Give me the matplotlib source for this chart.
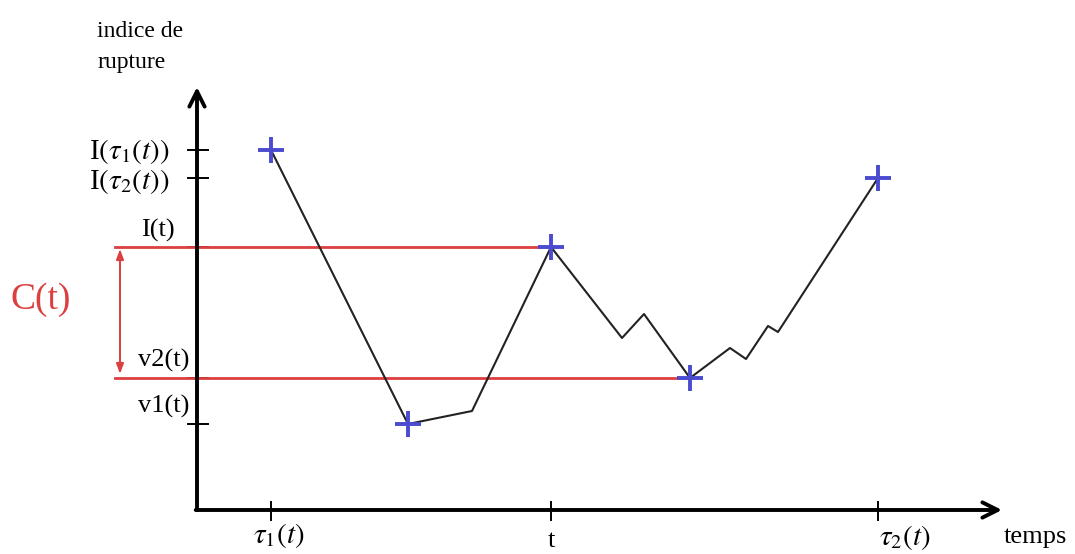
import matplotlib.pyplot as plt

plt.rcParams['font.family'] = ['Liberation Serif', 'DejaVu Serif']
plt.rcParams['mathtext.fontset'] = 'stix'

# time / index values of the breaking index curve
time = [74, 211, 275, 354, 425, 447, 493, 533, 549, 571, 581, 681]
index = [360, 86, 99, 263, 172, 196, 132, 162, 151, 184, 178, 332]

# marked points (tau1, min, t, v2, tau2)
mark_time = [74, 211, 354, 493, 681]
mark_index = [360, 86, 263, 132, 332]

ytick_vals = [360, 332, 263, 132, 86]
xtick_vals = [74, 354, 681]
level_it = 263
level_v2 = 132

RED = '#dc3f3f'
BLUE = '#4b4bcf'

fig = plt.figure(figsize=(10.75, 5.54), dpi=100)
ax = fig.add_axes([0, 0, 1, 1])
ax.set_xlim(-197, 878)
ax.set_ylim(-44, 510)
ax.axis('off')

# axes with arrows
arrow = dict(arrowstyle='->,head_length=1.1,head_width=0.55', lw=2.8, color='black',
             shrinkA=0, shrinkB=0)
ax.annotate('', xy=(0, 423), xytext=(0, 0), arrowprops=arrow)
ax.annotate('', xy=(805, 0), xytext=(-1.3, 0), arrowprops=arrow)

# ticks
for y in ytick_vals:
    ax.plot([-9, 11], [y, y], color='black', lw=1.4)
for x in xtick_vals:
    ax.plot([x, x], [-10, 8], color='black', lw=1.4)

# red levels
ax.plot([-82, mark_time[2]], [level_it, level_it], color=RED, lw=2)
ax.plot([-82, mark_time[3]], [level_v2, level_v2], color=RED, lw=2)
ax.annotate('', xy=(-77, level_it - 2), xytext=(-77, level_v2 + 4),
            arrowprops=dict(arrowstyle='<|-|>,head_length=0.6,head_width=0.22',
                            lw=1.4, color=RED, shrinkA=0, shrinkB=0))

# curve
ax.plot(time, index, color='#222222', lw=1.5)
ax.plot(mark_time, mark_index, '+', color=BLUE, ms=19, mew=2.8)

# labels
fs = 19
ax.text(-100, 473, 'indice de', fontsize=17, va='baseline', ha='left')
ax.text(-100, 442, 'rupture', fontsize=17, va='baseline', ha='left')
ax.text(-27, 358, r'I$(\tau_1(t))$', fontsize=21, ha='right', va='center')
ax.text(-27, 329, r'I$(\tau_2(t))$', fontsize=21, ha='right', va='center')
ax.text(-22, 280, 'I(t)', fontsize=fs, ha='right', va='center')
ax.text(-156, 210, 'C(t)', fontsize=27, ha='center', va='center', color=RED)
ax.text(-8, 150, 'v2(t)', fontsize=fs, ha='right', va='center')
ax.text(-8, 104, 'v1(t)', fontsize=fs, ha='right', va='center')
ax.text(82, -26, r'$\tau_1(t)$', fontsize=21, ha='center', va='center')
ax.text(xtick_vals[1], -42, 't', fontsize=fs, ha='center', va='bottom')
ax.text(708, -27, r'$\tau_2(t)$', fontsize=21, ha='center', va='center')
ax.text(838, -27, 'temps', fontsize=fs, ha='center', va='center')

fig.savefig('out.png', dpi=100)
